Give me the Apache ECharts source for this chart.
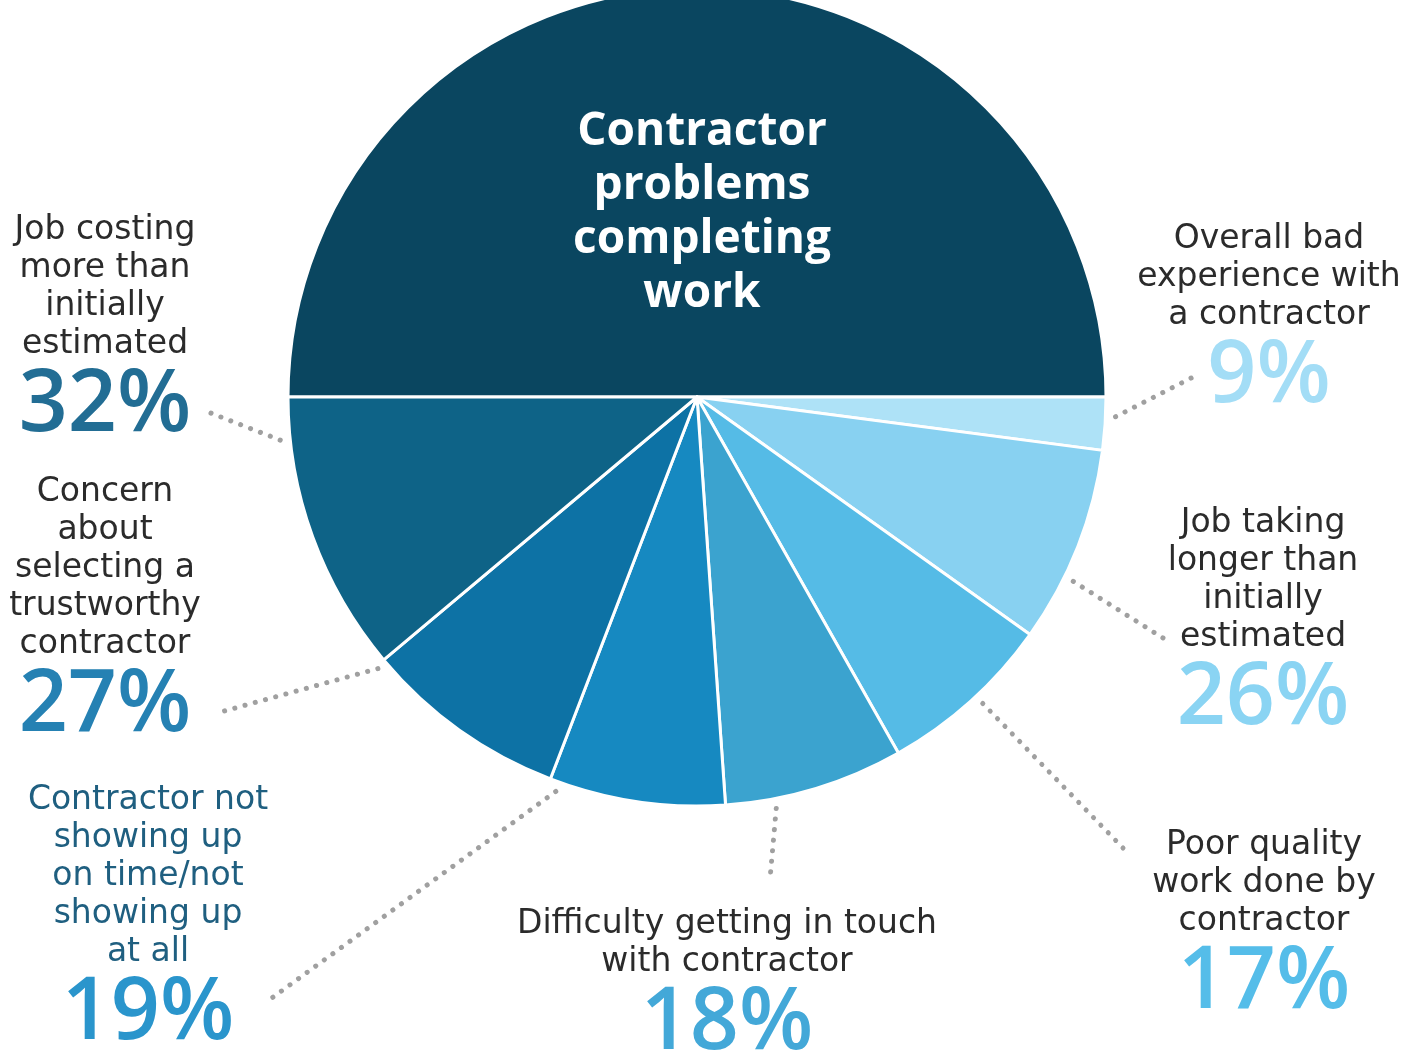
<!DOCTYPE html>
<html>
<head>
<meta charset="utf-8">
<title>Contractor problems</title>
<script src="https://cdn.jsdelivr.net/npm/echarts@6/dist/echarts.min.js"></script>
<style>
  html, body { margin: 0; padding: 0; background: #fff; }
  #chart { width: 1403px; height: 1053px; }
</style>
</head>
<body>
<div id="chart"></div>
<script>
// slices, clockwise from the left horizontal (top half first)
var categories = [
    "Contractor\nproblems\ncompleting\nwork",
    "Overall bad\nexperience with\na contractor",
    "Job taking\nlonger than\ninitially\nestimated",
    "Poor quality\nwork done by\ncontractor",
    "Difficulty getting in touch\nwith contractor",
    "Contractor not\nshowing up\non time/not\nshowing up\nat all",
    "Concern\nabout\nselecting a\ntrustworthy\ncontractor",
    "Job costing\nmore than\ninitially\nestimated"
];
var percentLabels = ["", "9%", "26%", "17%", "18%", "19%", "27%", "32%"];
// share of the disc each slice takes in the picture (degrees)
var sliceDegrees = [180, 7.5, 28, 25, 25.5, 25, 29, 40];

var sliceColors = ["#0a4660", "#aee2f7", "#88d1f1", "#55bbe6", "#3ba3cf", "#1689c1", "#0d72a5", "#0e6387"];
var pctColors = ["#ffffff", "#a3ddf6", "#8ad4f3", "#55bde9", "#43a8d8", "#2a95cc", "#2581b3", "#226d94"];

// layout: pie geometry and where each label block sits (center x, top y)
var CX = 697, CY = 397, R = 409;
var labelPos = [[702, 105], [1269, 220], [1263, 504], [1264, 826], [727, 905], [148, 781], [105, 473], [105, 211]];
// leader lines: angle on the pie edge (deg, clockwise from 3 o'clock) and outer end
var leaderAngle = [null, 2.7, 26.1, 47, 79.1, 109.7, 139.6, 174.1];
var leaderEnd = [null, [1197, 375], [1163, 638], [1123, 848], [770, 879], [265, 1003], [217, 713], [208, 412]];

var chart = echarts.init(document.getElementById("chart"));

var data = categories.map(function (name, i) {
    var item = {
        name: name,
        value: sliceDegrees[i],
        itemStyle: { color: sliceColors[i] },
        label: { color: pctColors[i] }
    };
    if (i === 0) {
        item.labelLine = { show: false };
    }
    return item;
});

function fmt(p) {
    var i = p.dataIndex;
    var lines = categories[i].split("\n");
    if (i === 0) {
        return lines.map(function (l) { return "{t|" + l + "}"; }).join("\n");
    }
    var key = i === 5 ? "nb" : "n";
    var s = lines.map(function (l) { return "{" + key + "|" + l + "}"; }).join("\n");
    return s + "\n{p|" + percentLabels[i] + "}";
}

var option = {
    backgroundColor: "#ffffff",
    animation: false,
    series: [
        {
            type: "pie",
            center: [CX, CY],
            radius: R,
            startAngle: 180,
            clockwise: true,
            avoidLabelOverlap: false,
            emphasis: { scale: false },
            itemStyle: { borderColor: "#ffffff", borderWidth: 3 },
            label: {
                show: true,
                position: "outside",
                formatter: fmt,
                align: "center",
                overflow: "none",
                rich: {
                    t: { fontFamily: "Open Sans", fontWeight: 700, fontSize: 46, lineHeight: 54, color: "#ffffff", align: "center" },
                    n: { fontFamily: "DejaVu Sans", fontSize: 33, lineHeight: 38, color: "#2b2b2b", align: "center" },
                    nb: { fontFamily: "DejaVu Sans", fontSize: 33, lineHeight: 38, color: "#1f5f80", align: "center" },
                    p: { fontFamily: "Open Sans", fontWeight: 600, fontSize: 86, lineHeight: 86, align: "center" }
                }
            },
            labelLine: {
                show: true,
                lineStyle: { color: "#a0a0a0", width: 5, type: [0.1, 10.5], cap: "round" }
            },
            labelLayout: function (p) {
                var i = p.dataIndex;
                var out = { x: labelPos[i][0], y: labelPos[i][1], align: "center", verticalAlign: "top", hideOverlap: false };
                if (i > 0) {
                    var a = leaderAngle[i] * Math.PI / 180;
                    var sx = CX + (R + 10) * Math.cos(a);
                    var sy = CY + (R + 10) * Math.sin(a);
                    var e = leaderEnd[i];
                    out.labelLinePoints = [[sx, sy], [(sx + e[0]) / 2, (sy + e[1]) / 2], [e[0], e[1]]];
                }
                return out;
            },
            data: data
        }
    ]
};

chart.setOption(option);
</script>
</body>
</html>
